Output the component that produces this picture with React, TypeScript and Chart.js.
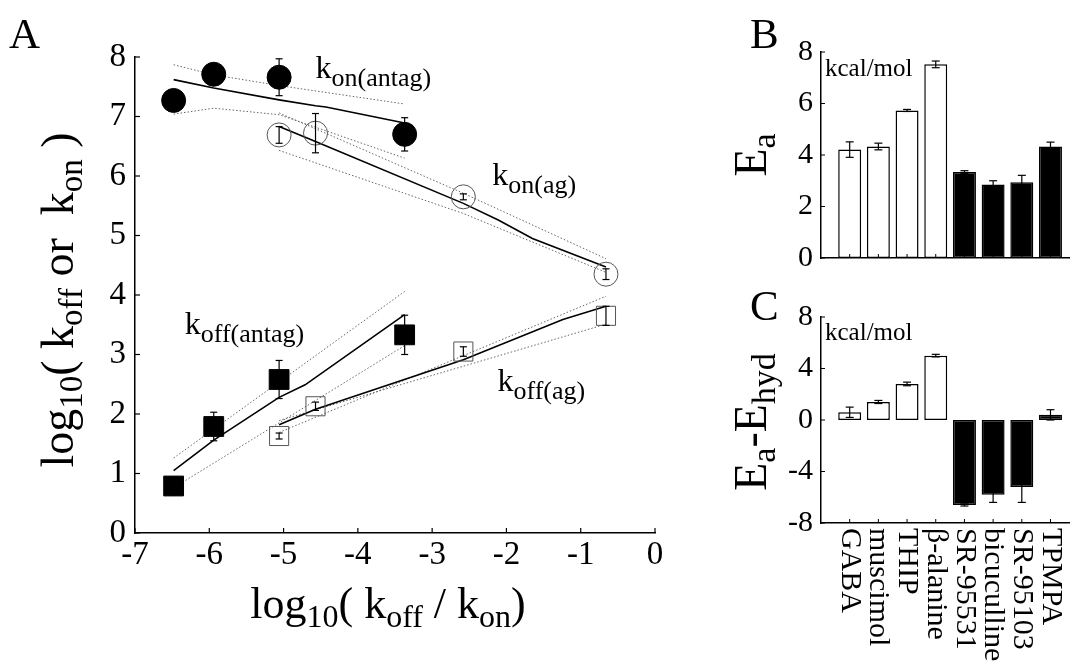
import React, { useEffect, useRef } from 'react';
import { Chart, registerables } from 'chart.js';

Chart.register(...registerables);

const SERIF = '"Liberation Serif", "Times New Roman", Times, serif';

// ---------- Panel A data ----------
const konAntagX = [-6.48, -5.94, -5.06, -3.37];
const konAntagY = [7.27, 7.71, 7.66, 6.70];
const konAntagErr = [0, 0, 0.31, 0.28];

const konAgX = [-5.06, -4.57, -2.58, -0.66];
const konAgY = [6.69, 6.72, 5.65, 4.35];
const konAgErr = [0.14, 0.33, 0.05, 0.09];

const koffAntagX = [-6.48, -5.94, -5.06, -3.37];
const koffAntagY = [0.79, 1.79, 2.58, 3.33];
const koffAntagErr = [0.15, 0.24, 0.32, 0.33];

const koffAgX = [-5.06, -4.57, -2.58, -0.66];
const koffAgY = [1.63, 2.13, 3.05, 3.65];
const koffAgErr = [0.05, 0.07, 0.08, 0.16];

// fitted lines and bands
const konAntagFitX = [-6.48, -5.94, -5.06, -4.57, -4.43, -3.37];
const konAntagFitY = [7.62, 7.48, 7.28, 7.18, 7.16, 6.89];
const konAntagHiX = [-6.48, -5.94, -5.06, -3.37];
const konAntagHiY = [7.87, 7.70, 7.52, 7.21];
const konAntagLoX = [-6.48, -5.94, -5.06, -4.57, -3.37];
const konAntagLoY = [7.04, 7.14, 7.03, 6.82, 6.30];

const konAgFitX = [-5.06, -4.57, -2.58, -2.11, -1.65, -0.66];
const konAgFitY = [6.83, 6.58, 5.54, 5.26, 4.95, 4.47];
const konAgHiX = [-5.06, -2.58, -0.66];
const konAgHiY = [7.06, 5.71, 4.61];
const konAgLoX = [-5.06, -2.58, -0.66];
const konAgLoY = [6.43, 5.37, 4.38];

const koffAntagFitX = [-6.48, -5.94, -5.06, -4.71, -3.37];
const koffAntagFitY = [1.05, 1.56, 2.28, 2.49, 3.67];
const koffAntagHiX = [-6.48, -3.37];
const koffAntagHiY = [1.26, 4.06];
const koffAntagLoX = [-6.48, -3.37];
const koffAntagLoY = [0.76, 3.15];

const koffAgFitX = [-5.06, -4.57, -2.58, -1.24, -0.66];
const koffAgFitY = [1.82, 2.08, 2.91, 3.59, 3.81];
const koffAgBand1X = [-5.06, -0.66];
const koffAgBand1Y = [1.69, 3.98];
const koffAgBand2X = [-5.06, -0.66];
const koffAgBand2Y = [1.89, 3.51];

// ---------- Panels B / C data ----------
const catLabels = ['GABA', 'muscimol', 'THIP', 'β-alanine', 'SR-95531', 'bicuculline', 'SR-95103', 'TPMPA'];
const isAgonist = [true, true, true, true, false, false, false, false];
const eaVals = [4.21, 4.33, 5.73, 7.52, 3.34, 2.85, 2.94, 4.33];
const eaErr = [0.3, 0.13, 0.04, 0.13, 0.05, 0.15, 0.27, 0.17];
const dEaVals = [0.6, 1.4, 2.8, 5.0, -6.6, -5.8, -5.2, 0.4];
const dEaErr = [0.4, 0.12, 0.14, 0.1, 0.08, 0.6, 1.2, 0.4];

type Part = { t: string; sub?: boolean };

const pts = (xs: number[], ys: number[]) => xs.map((x, i) => ({ x, y: ys[i] }));

function drawRich(
  ctx: CanvasRenderingContext2D,
  parts: Part[],
  x: number,
  y: number,
  size: number,
  subSize: number,
  drop: number,
  align: 'left' | 'center'
) {
  const widths = parts.map((p) => {
    ctx.font = `${p.sub ? subSize : size}px ${SERIF}`;
    return ctx.measureText(p.t).width;
  });
  const total = widths.reduce((a, b) => a + b, 0);
  let cx = align === 'center' ? x - total / 2 : x;
  ctx.textAlign = 'left';
  ctx.textBaseline = 'alphabetic';
  ctx.fillStyle = '#000';
  parts.forEach((p, i) => {
    ctx.font = `${p.sub ? subSize : size}px ${SERIF}`;
    ctx.fillText(p.t, cx, p.sub ? y + drop : y);
    cx += widths[i];
  });
}

function line(ctx: CanvasRenderingContext2D, x1: number, y1: number, x2: number, y2: number) {
  ctx.beginPath();
  ctx.moveTo(x1, y1);
  ctx.lineTo(x2, y2);
  ctx.stroke();
}

const curveLabels: { parts: Part[]; x: number; y: number }[] = [
  { parts: [{ t: 'k' }, { t: 'on(antag)', sub: true }], x: -4.57, y: 7.65 },
  { parts: [{ t: 'k' }, { t: 'on(ag)', sub: true }], x: -2.19, y: 5.85 },
  { parts: [{ t: 'k' }, { t: 'off(antag)', sub: true }], x: -6.33, y: 3.35 },
  { parts: [{ t: 'k' }, { t: 'off(ag)', sub: true }], x: -2.12, y: 2.39 },
];

const errorSetsA = [
  { xs: konAntagX, ys: konAntagY, es: konAntagErr },
  { xs: konAgX, ys: konAgY, es: konAgErr },
  { xs: koffAntagX, ys: koffAntagY, es: koffAntagErr },
  { xs: koffAgX, ys: koffAgY, es: koffAgErr },
];

const panelAPlugin = {
  id: 'panelA',
  afterDatasetsDraw(chart: any) {
    const { ctx, scales, chartArea } = chart;
    const xs = scales.x;
    const ys = scales.y;
    ctx.save();
    ctx.strokeStyle = '#000';
    ctx.lineWidth = 1.2;
    errorSetsA.forEach((s) => {
      s.xs.forEach((xv, i) => {
        const e = s.es[i];
        if (!e) return;
        const px = xs.getPixelForValue(xv);
        const t = ys.getPixelForValue(s.ys[i] + e);
        const b = ys.getPixelForValue(s.ys[i] - e);
        line(ctx, px, t, px, b);
        line(ctx, px - 3.5, t, px + 3.5, t);
        line(ctx, px - 3.5, b, px + 3.5, b);
      });
    });
    // inward ticks
    ctx.lineWidth = 1.2;
    xs.ticks.forEach((tk: any) => {
      const px = xs.getPixelForValue(tk.value);
      line(ctx, px, chartArea.bottom, px, chartArea.bottom - 5);
    });
    ys.ticks.forEach((tk: any) => {
      const py = ys.getPixelForValue(tk.value);
      line(ctx, chartArea.left, py, chartArea.left + 5, py);
    });
    // curve labels
    curveLabels.forEach((l) => {
      drawRich(ctx, l.parts, xs.getPixelForValue(l.x), ys.getPixelForValue(l.y), 32, 26, 8, 'left');
    });
    // panel letter
    ctx.fillStyle = '#000';
    ctx.font = `43px ${SERIF}`;
    ctx.textAlign = 'left';
    ctx.textBaseline = 'alphabetic';
    ctx.fillText('A', 9, 48);
    // x title
    drawRich(
      ctx,
      [{ t: 'log' }, { t: '10', sub: true }, { t: '( k' }, { t: 'off', sub: true }, { t: ' / k' }, { t: 'on', sub: true }, { t: ')' }],
      388, 618, 44, 32, 9, 'center'
    );
    // y title (rotated)
    ctx.save();
    ctx.translate(73, 300);
    ctx.rotate(-Math.PI / 2);
    drawRich(
      ctx,
      [{ t: 'log' }, { t: '10', sub: true }, { t: '( k' }, { t: 'off', sub: true }, { t: ' or  k' }, { t: 'on', sub: true }, { t: ' )' }],
      0, 0, 46, 33, 9, 'center'
    );
    ctx.restore();
    ctx.restore();
  },
};

function dsLine(xs: number[], ys: number[], dotted: boolean) {
  return {
    type: 'line',
    data: pts(xs, ys),
    showLine: true,
    borderColor: dotted ? '#666' : '#000',
    borderWidth: dotted ? 1 : 1.6,
    borderDash: dotted ? [1.5, 2] : [],
    pointRadius: 0,
    fill: false,
    tension: 0,
  };
}

function dsMarker(xs: number[], ys: number[], style: string, r: number, filled: boolean) {
  return {
    type: 'scatter',
    data: pts(xs, ys),
    pointStyle: style,
    pointRadius: r,
    pointBackgroundColor: filled ? '#000' : 'rgba(0,0,0,0)',
    pointBorderColor: filled ? '#000' : '#555',
    pointBorderWidth: 1,
    showLine: false,
  };
}

const serifTick = (size: number) => ({ family: SERIF, size });

function makePanelA(canvas: HTMLCanvasElement) {
  return new Chart(canvas, {
    type: 'scatter',
    data: {
      datasets: [
        dsMarker(konAntagX, konAntagY, 'circle', 12, true),
        dsMarker(konAgX, konAgY, 'circle', 12, false),
        dsMarker(koffAntagX, koffAntagY, 'rect', 14, true),
        dsMarker(koffAgX, koffAgY, 'rect', 13.5, false),
        dsLine(konAntagFitX, konAntagFitY, false),
        dsLine(konAntagHiX, konAntagHiY, true),
        dsLine(konAntagLoX, konAntagLoY, true),
        dsLine(konAgFitX, konAgFitY, false),
        dsLine(konAgHiX, konAgHiY, true),
        dsLine(konAgLoX, konAgLoY, true),
        dsLine(koffAntagFitX, koffAntagFitY, false),
        dsLine(koffAntagHiX, koffAntagHiY, true),
        dsLine(koffAntagLoX, koffAntagLoY, true),
        dsLine(koffAgFitX, koffAgFitY, false),
        dsLine(koffAgBand1X, koffAgBand1Y, true),
        dsLine(koffAgBand2X, koffAgBand2Y, true),
      ] as any,
    },
    options: {
      responsive: false,
      animation: false,
      events: [],
      layout: { padding: { left: 0, top: 57, right: 45, bottom: 0 } },
      plugins: { legend: { display: false }, tooltip: { enabled: false } },
      scales: {
        x: {
          type: 'linear',
          min: -7,
          max: 0,
          ticks: { stepSize: 1, font: serifTick(33), color: '#000', padding: 3, callback: (v: any) => String(v) },
          grid: { display: false, drawTicks: false },
          border: { display: true, color: '#000', width: 1.5 },
          afterFit: (s: any) => { s.height = 130; },
        },
        y: {
          type: 'linear',
          min: 0,
          max: 8,
          ticks: { stepSize: 1, font: serifTick(33), color: '#000', padding: 9, callback: (v: any) => String(v) },
          grid: { display: false, drawTicks: false },
          border: { display: true, color: '#000', width: 1.5 },
          afterFit: (s: any) => { s.width = 135; },
        },
      },
    } as any,
    plugins: [panelAPlugin],
  });
}

function barPlugin(vals: number[], errs: number[], letter: string, letterY: number, title: Part[], titleX: number, titleY: number, unitY: number, showCats: boolean) {
  return {
    id: 'barExtras' + letter,
    afterDraw(chart: any) {
      const { ctx, scales, chartArea } = chart;
      const xs = scales.x;
      const ys = scales.y;
      ctx.save();
      ctx.strokeStyle = '#000';
      ctx.lineWidth = 1.2;
      vals.forEach((v, i) => {
        const px = xs.getPixelForValue(i);
        const t = ys.getPixelForValue(v + errs[i]);
        const b = ys.getPixelForValue(v - errs[i]);
        line(ctx, px, t, px, b);
        line(ctx, px - 4, t, px + 4, t);
        line(ctx, px - 4, b, px + 4, b);
      });
      // inward ticks
      ctx.lineWidth = 1;
      xs.ticks.forEach((tk: any) => {
        const px = xs.getPixelForValue(tk.value);
        line(ctx, px, chartArea.bottom, px, chartArea.bottom - 4);
      });
      ys.ticks.forEach((tk: any) => {
        const py = ys.getPixelForValue(tk.value);
        line(ctx, chartArea.left, py, chartArea.left + 4, py);
      });
      // unit text
      ctx.fillStyle = '#000';
      ctx.font = `25px ${SERIF}`;
      ctx.textAlign = 'left';
      ctx.textBaseline = 'alphabetic';
      ctx.fillText('kcal/mol', chartArea.left + 4, unitY);
      // panel letter
      ctx.font = `43px ${SERIF}`;
      ctx.fillText(letter, 50, letterY);
      // rotated title
      ctx.save();
      ctx.translate(titleX, titleY);
      ctx.rotate(-Math.PI / 2);
      drawRich(ctx, title, 0, 0, 46, 34, 9, 'center');
      ctx.restore();
      // category labels rotated clockwise
      if (showCats) {
        ctx.font = `30px ${SERIF}`;
        ctx.fillStyle = '#000';
        catLabels.forEach((lab, i) => {
          const px = xs.getPixelForValue(i);
          ctx.save();
          ctx.translate(px, chartArea.bottom + 5);
          ctx.rotate(Math.PI / 2);
          ctx.textAlign = 'left';
          ctx.textBaseline = 'middle';
          ctx.fillText(lab, 0, 0);
          ctx.restore();
        });
      }
      ctx.restore();
    },
  };
}

function makeBarPanel(
  canvas: HTMLCanvasElement,
  vals: number[],
  errs: number[],
  yMin: number,
  yMax: number,
  step: number,
  labelEvery: number,
  padTop: number,
  xHeight: number,
  plugin: any
) {
  return new Chart(canvas, {
    type: 'bar',
    data: {
      datasets: [
        {
          data: vals.map((v, i) => ({ x: i, y: v })),
          backgroundColor: isAgonist.map((a) => (a ? '#fff' : '#000')),
          borderColor: '#000',
          borderWidth: 1.5,
          borderSkipped: false,
          categoryPercentage: 1,
          barPercentage: 0.8,
        },
      ] as any,
    },
    options: {
      responsive: false,
      animation: false,
      events: [],
      layout: { padding: { left: 0, top: padTop, right: 0, bottom: 0 } },
      plugins: { legend: { display: false }, tooltip: { enabled: false } },
      scales: {
        x: {
          type: 'linear',
          min: -1,
          max: 7.68,
          offset: false,
          afterBuildTicks: (s: any) => { s.ticks = catLabels.map((_, i) => ({ value: i })); },
          ticks: { display: false },
          grid: { display: false, drawTicks: false },
          border: { display: true, color: '#000', width: 1.5 },
          afterFit: (s: any) => { s.height = xHeight; },
        },
        y: {
          type: 'linear',
          min: yMin,
          max: yMax,
          ticks: {
            stepSize: step,
            font: serifTick(30),
            color: '#000',
            padding: 8,
            callback: (v: any) => (Math.abs(v % labelEvery) < 1e-9 ? String(v) : ''),
          },
          grid: { display: false, drawTicks: false },
          border: { display: true, color: '#000', width: 1.5 },
          afterFit: (s: any) => { s.width = 121; },
        },
      },
    } as any,
    plugins: [plugin],
  });
}

export default function App() {
  const refA = useRef<HTMLCanvasElement>(null);
  const refB = useRef<HTMLCanvasElement>(null);
  const refC = useRef<HTMLCanvasElement>(null);

  useEffect(() => {
    const charts: Chart[] = [];
    charts.push(makePanelA(refA.current!));
    charts.push(
      makeBarPanel(
        refB.current!, eaVals, eaErr, 0, 8, 1, 2, 52, 27,
        barPlugin(eaVals, eaErr, 'B', 48, [{ t: 'E' }, { t: 'a', sub: true }], 66, 155, 76, false)
      )
    );
    charts.push(
      makeBarPanel(
        refC.current!, dEaVals, dEaErr, -8, 8, 2, 4, 32, 140,
        barPlugin(dEaVals, dEaErr, 'C', 35, [{ t: 'E' }, { t: 'a', sub: true }, { t: '-E' }, { t: 'hyd', sub: true }], 66, 137, 55, true)
      )
    );
    return () => charts.forEach((c) => c.destroy());
  }, []);

  return (
    <div style={{ position: 'absolute', left: 0, top: 0, width: 1070, height: 663, background: '#fff', overflow: 'hidden' }}>
      <canvas ref={refA} width={700} height={663} style={{ position: 'absolute', left: 0, top: 0, display: 'block' }} />
      <canvas ref={refB} width={370} height={285} style={{ position: 'absolute', left: 700, top: 0, display: 'block' }} />
      <canvas ref={refC} width={370} height={378} style={{ position: 'absolute', left: 700, top: 285, display: 'block' }} />
    </div>
  );
}
